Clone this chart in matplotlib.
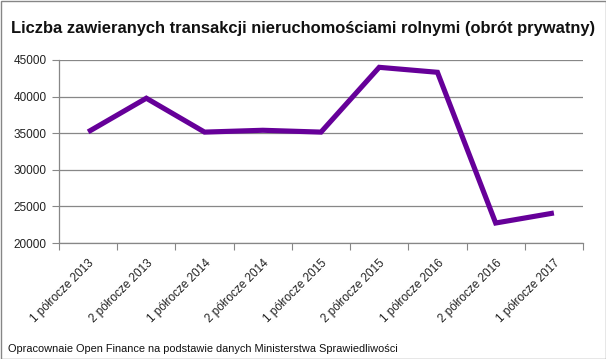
import matplotlib
matplotlib.use("Agg")
import matplotlib.pyplot as plt
from matplotlib.patches import Rectangle

# data
categories = ["1 półrocze 2013", "2 półrocze 2013", "1 półrocze 2014", "2 półrocze 2014",
              "1 półrocze 2015", "2 półrocze 2015", "1 półrocze 2016", "2 półrocze 2016",
              "1 półrocze 2017"]
transactions = [35180, 39780, 35150, 35400, 35150, 44000, 43320, 22730, 24100]
y_ticks = [20000, 25000, 30000, 35000, 40000, 45000]

title = "Liczba zawieranych transakcji nieruchomościami rolnymi (obrót prywatny)"
source = "Opracownaie Open Finance na podstawie danych Ministerstwa Sprawiedliwości"

plt.rcParams["font.family"] = ["Liberation Sans", "DejaVu Sans"]

W, H = 606, 359
fig = plt.figure(figsize=(W / 100, H / 100), dpi=100)
ax = fig.add_axes([59 / W, 1 - 243 / H, (583 - 59) / W, (243 - 60) / H])

x = range(len(categories))
ax.plot(x, transactions, color="#660099", lw=3.7, solid_joinstyle="miter",
        solid_capstyle="butt", zorder=3)

ax.set_xlim(-0.5, len(categories) - 0.5)
ax.set_ylim(20000, 45000)
ax.set_yticks(y_ticks)
ax.set_yticklabels([str(v) for v in y_ticks], fontsize=8.5, color="#222222")
ax.yaxis.grid(True, color="#878787", lw=0.9)
ax.set_axisbelow(True)

ax.set_xticks([i - 0.5 for i in range(len(categories) + 1)], minor=False)
ax.set_xticklabels([])
ax.set_xticks(list(x), minor=True)
ax.set_xticklabels(categories, minor=True, rotation=45, ha="right",
                   rotation_mode="anchor", fontsize=8.5, color="#222222")
ax.tick_params(axis="x", which="major", length=5, color="#878787")
ax.tick_params(axis="x", which="minor", length=0, pad=10)
ax.tick_params(axis="y", length=5, color="#878787", pad=4)

for side in ["top", "right"]:
    ax.spines[side].set_visible(False)
for side in ["left", "bottom"]:
    ax.spines[side].set_color("#878787")
    ax.spines[side].set_linewidth(0.9)

fig.text(0.5, 1 - 28 / H, title, ha="center", va="center",
         fontsize=11.85, fontweight="bold", color="#111111")
fig.text(8 / W, 1 - 349 / H, source, ha="left", va="center",
         fontsize=7.9, color="#111111")

fig.add_artist(Rectangle((0.5 / W, 0.5 / H), 1 - 1 / W, 1 - 1 / H,
                         transform=fig.transFigure, fill=False,
                         edgecolor="#868686", lw=1))

fig.savefig("out.png", dpi=100)
